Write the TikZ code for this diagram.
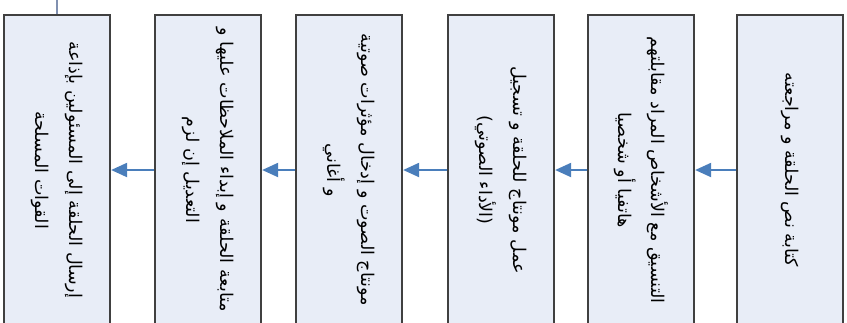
\documentclass[tikz,border=0pt]{standalone}
\usepackage{fontspec}
\newfontfamily\arabicfont[Script=Arabic]{DejaVu Sans}
\TeXXeTstate=1
\usetikzlibrary{arrows.meta}
\definecolor{stagefill}{HTML}{E8EDF7}
\definecolor{stageline}{HTML}{404040}
\definecolor{flowblue}{HTML}{4A7EBB}
\definecolor{feedline}{HTML}{8090B0}
\tikzset{stage/.style={rectangle,draw=stageline,line width=1.3pt,fill=stagefill,rotate=-90,minimum width=6.2cm,minimum height=2.12cm,inner sep=2pt,align=center,font=\arabicfont\fontsize{10}{19}\selectfont}}

\begin{document}
\begin{tikzpicture}[x=0.02cm,y=-0.02cm]
\tikzset{flow/.style={line width=1.2pt,draw=flowblue,-{Triangle[length=0.32cm,width=0.28cm]}}}
\useasboundingbox (0,0) rectangle (847,322);
\clip (0,0) rectangle (847,322);

\foreach \i/\x/\t in {
	1/790/{\beginR كتابة نص الحلقة و مراجعته\endR},
	2/641/{\beginR التنسيق مع الأشخاص المراد مقابلتهم\endR\\\beginR هاتفيا أو شخصيا\endR},
	3/501/{\beginR عمل مونتاج للحلقة و تسجيل\endR\\\beginR (الأداء الصوتي)\endR},
	4/349/{\beginR مونتاج الصوت و إدخال مؤثرات صوتية\endR\\\beginR و أغاني\endR},
	5/208/{\beginR متابعة الحلقة و إبداء الملاحظات عليها و\endR\\\beginR التعديل إن لزم\endR},
	6/57/{\beginR إرسال الحلقة إلى المسئولين بإذاعة\endR\\\beginR القوات المسلحة\endR}} {
	\node[stage] (b\i) at (\x,170) {\t};
}

\foreach \i / \j in {1/2,2/3,3/4,4/5,5/6} {
	\draw[flow] (b\i) -- (b\j);
}
\coordinate (up) at (57,0);
\draw[line width=1pt, feedline] (b6.west) -- (up);
\end{tikzpicture}
\end{document}
